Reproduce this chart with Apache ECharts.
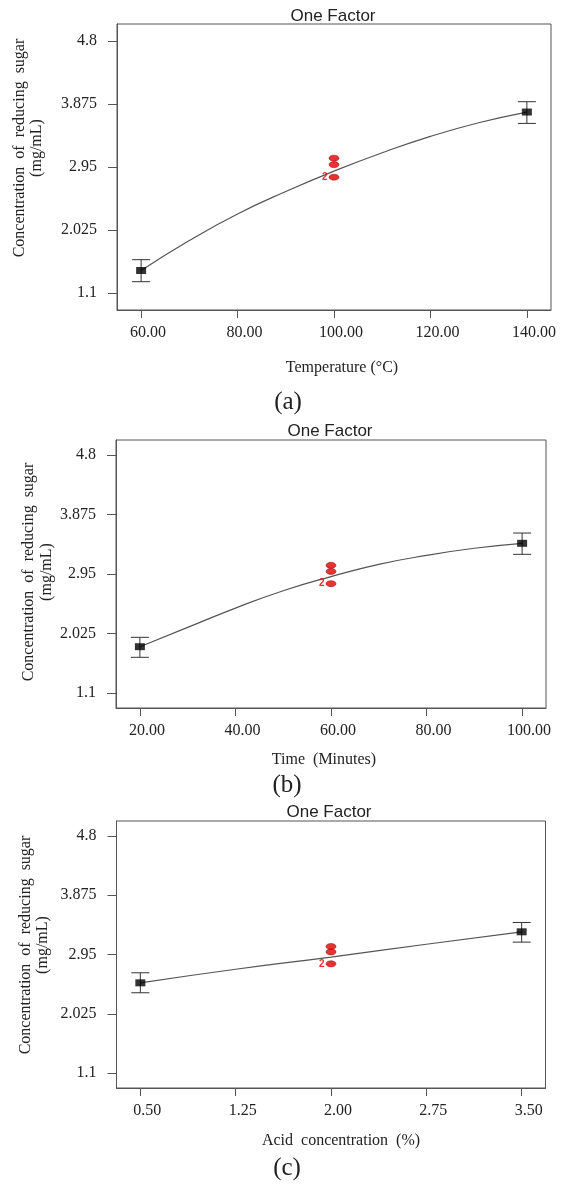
<!DOCTYPE html>
<html>
<head>
<meta charset="utf-8">
<script src="https://cdn.jsdelivr.net/npm/echarts@6/dist/echarts.min.js"></script>
<style>
html,body{margin:0;padding:0;background:#fff;}
#chart{width:573px;height:1185px;}
</style>
</head>
<body>
<div id="chart"></div>
<script>
// ---------- data ----------
const yTicks = [1.1, 2.025, 2.95, 3.875, 4.8];

// (a) Temperature
const tempTicks = [60, 80, 100, 120, 140];
const tempX = [60, 140];
const tempMean = [1.43, 3.757];
const tempLow = [1.266, 3.59];
const tempHigh = [1.589, 3.909];
const tempCenterX = 100;
const tempCenterY = [3.08, 2.985, 2.80];
const tempCurveX = [60, 70, 80, 90, 100, 110, 120, 130, 140];
const tempCurveY = [1.43, 1.87, 2.26, 2.59, 2.89, 3.16, 3.40, 3.60, 3.757];

// (b) Time
const timeTicks = [20, 40, 60, 80, 100];
const timeX = [20, 100];
const timeMean = [1.82, 3.427];
const timeLow = [1.655, 3.256];
const timeHigh = [1.966, 3.587];
const timeCenterX = 60;
const timeCenterY = [3.085, 2.99, 2.80];
const timeCurveX = [20, 30, 40, 50, 60, 70, 80, 90, 100];
const timeCurveY = [1.82, 2.12, 2.42, 2.69, 2.91, 3.10, 3.24, 3.35, 3.427];

// (c) Acid concentration
const acidTicks = [0.5, 1.25, 2.0, 2.75, 3.5];
const acidX = [0.5, 3.5];
const acidMean = [2.508, 3.304];
const acidLow = [2.353, 3.143];
const acidHigh = [2.665, 3.45];
const acidCenterX = 2.0;
const acidCenterY = [3.075, 2.99, 2.805];
const acidCurveX = [0.5, 1.25, 2.0, 2.75, 3.5];
const acidCurveY = [2.508, 2.72, 2.91, 3.11, 3.304];

const centerCounts = [1, 1, 2];

// ---------- layout ----------
const SERIF = "'Liberation Serif','Times New Roman',serif";
const SANS = "'Liberation Sans',Arial,sans-serif";
const panels = [
  { grid:{left:117, right:22, top:24, height:286}, xMin:55, xMax:145, yMin:0.85, yMax:5.05,
    ticks:tempTicks, X:tempX, mean:tempMean, low:tempLow, high:tempHigh,
    cx:tempCenterX, cy:tempCenterY, curveX:tempCurveX, curveY:tempCurveY },
  { grid:{left:116, right:27, top:440, height:268}, xMin:15, xMax:105, yMin:0.867, yMax:5.033,
    ticks:timeTicks, X:timeX, mean:timeMean, low:timeLow, high:timeHigh,
    cx:timeCenterX, cy:timeCenterY, curveX:timeCurveX, curveY:timeCurveY },
  { grid:{left:116.5, right:27.5, top:821, height:267}, xMin:0.3125, xMax:3.6875, yMin:0.867, yMax:5.033,
    ticks:acidTicks, X:acidX, mean:acidMean, low:acidLow, high:acidHigh,
    cx:acidCenterX, cy:acidCenterY, curveX:acidCurveX, curveY:acidCurveY }
];

const grids = [], xAxes = [], yAxes = [], series = [];
panels.forEach((p, i) => {
  grids.push(Object.assign({show:true, borderColor:'#555', borderWidth:1, backgroundColor:'transparent'}, p.grid));
  xAxes.push({
    type:'value', gridIndex:i, min:p.xMin, max:p.xMax,
    axisLine:{show:true, onZero:false, lineStyle:{color:'#555', width:1}},
    axisTick:{show:true, customValues:p.ticks, length:8, lineStyle:{color:'#555'}},
    axisLabel:{customValues:p.ticks, formatter:v => Number(v).toFixed(2), margin:15,
      padding:[0, 0, 0, 14],
      fontFamily:SERIF, fontSize:16, color:'#222'},
    splitLine:{show:false}
  });
  yAxes.push({
    type:'value', gridIndex:i, min:p.yMin, max:p.yMax,
    axisLine:{show:true, onZero:false, lineStyle:{color:'#555', width:1}},
    axisTick:{show:true, customValues:yTicks, length:9, lineStyle:{color:'#555'}},
    axisLabel:{customValues:yTicks, formatter:v => String(v), margin:20,
      padding:[5, 0, 0, 0],
      fontFamily:SERIF, fontSize:16, color:'#222'},
    splitLine:{show:false}
  });
  series.push({
    type:'line', xAxisIndex:i, yAxisIndex:i, smooth:true, showSymbol:false, silent:true,
    lineStyle:{color:'#555', width:1.2}, z:2,
    data:p.curveX.map((x, k) => [x, p.curveY[k]])
  });
  series.push({
    type:'custom', xAxisIndex:i, yAxisIndex:i, z:3,
    data:p.X.map((x, k) => [x, p.low[k], p.high[k]]),
    encode:{x:0, y:[1, 2]},
    renderItem:(params, api) => {
      const x = api.value(0);
      const a = api.coord([x, api.value(1)]);
      const b = api.coord([x, api.value(2)]);
      const hw = 9, st = {stroke:'#333', lineWidth:1};
      return {type:'group', children:[
        {type:'line', shape:{x1:a[0], y1:a[1], x2:b[0], y2:b[1]}, style:st},
        {type:'line', shape:{x1:a[0]-hw, y1:a[1], x2:a[0]+hw, y2:a[1]}, style:st},
        {type:'line', shape:{x1:b[0]-hw, y1:b[1], x2:b[0]+hw, y2:b[1]}, style:st}
      ]};
    }
  });
  series.push({
    type:'scatter', xAxisIndex:i, yAxisIndex:i, symbol:'rect', symbolSize:[10, 7], z:4,
    itemStyle:{color:'#000'},
    data:p.X.map((x, k) => [x, p.mean[k]])
  });
  series.push({
    type:'scatter', xAxisIndex:i, yAxisIndex:i, symbol:'circle', symbolSize:[10, 6], z:5,
    itemStyle:{color:'#e30000', borderColor:'#8a0000', borderWidth:0.6},
    data:p.cy.map((y, k) => ({
      value:[p.cx, y],
      label:{show:centerCounts[k] > 1, formatter:String(centerCounts[k]), position:'left', distance:1,
        color:'#e00000', fontSize:10, fontWeight:'bold', fontFamily:SANS}
    }))
  });
});

function txt(text, x, y, font, rot) {
  return {type:'text', x:x, y:y, rotation:rot || 0, silent:true, z:10,
    style:{text:text, font:font, fill:'#222', textAlign:'center', textVerticalAlign:'middle',
      align:'center', verticalAlign:'middle'}};
}
const titleFont = "17px " + SANS;
const nameFont = "16px " + SERIF;
const subFont = "25px " + SERIF;
const graphic = [
  txt('One Factor', 333, 16, titleFont),
  txt('One Factor', 330, 431, titleFont),
  txt('One Factor', 329, 812, titleFont),
  txt('Concentration  of  reducing  sugar', 20, 148, nameFont, Math.PI/2),
  txt('(mg/mL)', 37, 148, nameFont, Math.PI/2),
  txt('Concentration  of  reducing  sugar', 29, 572, nameFont, Math.PI/2),
  txt('(mg/mL)', 47, 572, nameFont, Math.PI/2),
  txt('Concentration  of  reducing  sugar', 25.5, 945, nameFont, Math.PI/2),
  txt('(mg/mL)', 43, 945, nameFont, Math.PI/2),
  txt('Temperature (°C)', 342, 368, nameFont),
  txt('Time  (Minutes)', 324, 760, nameFont),
  txt('Acid  concentration  (%)', 341, 1141, nameFont),
  txt('(a)', 288, 402, subFont),
  txt('(b)', 287, 785, subFont),
  txt('(c)', 287, 1168, subFont)
];

const chart = echarts.init(document.getElementById('chart'), null, {renderer:'canvas'});
chart.setOption({
  backgroundColor:'#fff',
  animation:false,
  grid:grids, xAxis:xAxes, yAxis:yAxes, series:series, graphic:graphic
});
</script>
</body>
</html>
